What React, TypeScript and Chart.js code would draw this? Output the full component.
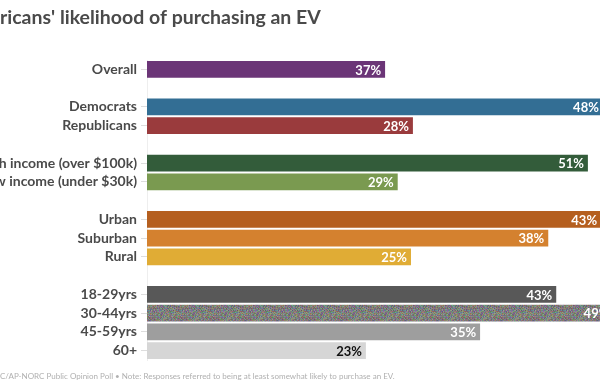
import { useEffect, useRef } from "react";
import { Chart, registerables } from "chart.js";
Chart.register(...registerables);

const categories = [
  "Overall", "",
  "Democrats", "Republicans", "",
  "High income (over $100k)", "Low income (under $30k)", "",
  "Urban", "Suburban", "Rural", "",
  "18-29yrs", "30-44yrs", "45-59yrs", "60+",
];
const overallValues = [37];
const partyValues = [48, 28];
const incomeValues = [51, 29];
const areaValues = [43, 38, 25];
const ageValues = [43, 49, 35, 23];
const groupValues = [overallValues, partyValues, incomeValues, areaValues, ageValues];
const groupStarts = [0, 2, 5, 8, 12];
const groupScaleMax = [70.4, 47.7, 52.4, 42.9, 47.6];
const groupColors = [
  ["#6b3577"],
  ["#336e94", "#9a3b3d"],
  ["#335c3a", "#7a9a50"],
  ["#b55f1f", "#d4812f", "#e0ac35"],
  ["#585858", "PATTERN", "#9e9e9e", "#d6d6d6"],
];
const groupLabelColors = [
  ["#ffffff"],
  ["#ffffff", "#ffffff"],
  ["#ffffff", "#ffffff"],
  ["#ffffff", "#ffffff", "#ffffff"],
  ["#ffffff", "#ffffff", "#ffffff", "#111111"],
];
const titlePrefix = "Ame";
const titleRest = "ricans' likelihood of purchasing an EV";
const footerPrefix = "Source: EPI";
const footerRest =
  "C/AP-NORC Public Opinion Poll \u2022 Note: Responses referred to being at least somewhat likely to purchase an EV.";
const FONT = "Lato, 'Noto Sans', sans-serif";

function makeNoisePattern(): CanvasPattern | string {
  const c = document.createElement("canvas");
  c.width = 32;
  c.height = 32;
  const cx = c.getContext("2d");
  if (!cx) return "#7d7d7d";
  const img = cx.createImageData(32, 32);
  let s = 12345;
  const next = () => {
    s = (s * 1103515245 + 12345) & 0x7fffffff;
    return s / 0x7fffffff;
  };
  for (let i = 0; i < 32 * 32; i++) {
    const base = 124;
    img.data[i * 4] = base + (next() - 0.5) * 70;
    img.data[i * 4 + 1] = base + (next() - 0.5) * 70;
    img.data[i * 4 + 2] = base + (next() - 0.5) * 70;
    img.data[i * 4 + 3] = 255;
  }
  cx.putImageData(img, 0, 0);
  return cx.createPattern(c, "repeat") || "#7d7d7d";
}

export default function App() {
  const ref = useRef<HTMLCanvasElement | null>(null);

  useEffect(() => {
    if (!ref.current) return;
    const pattern = makeNoisePattern();

    const datasets = groupValues.map((vals, g) => {
      const data: (number | null)[] = categories.map(() => null);
      const bg: any[] = categories.map(() => "transparent");
      const lc: string[] = categories.map(() => "#fff");
      vals.forEach((v, i) => {
        data[groupStarts[g] + i] = v;
        const col = groupColors[g][i];
        bg[groupStarts[g] + i] = col === "PATTERN" ? pattern : col;
        lc[groupStarts[g] + i] = groupLabelColors[g][i];
      });
      return {
        label: "g" + g,
        data,
        backgroundColor: bg,
        labelColors: lc,
        xAxisID: "x" + g,
        grouped: false,
        barPercentage: 0.9,
        categoryPercentage: 1,
        borderWidth: 0,
      } as any;
    });

    const scales: any = {
      y: {
        type: "category",
        labels: categories,
        grid: {
          offset: false,
          drawOnChartArea: false,
          drawTicks: true,
          tickLength: 6,
          color: (ctx: any) => (categories[ctx.index] ? "#dddddd" : "rgba(0,0,0,0)"),
        },
        border: { display: true, color: "#eeeeee" },
        ticks: {
          font: { family: FONT, size: 14, weight: "bold" },
          color: "#4a4a4a",
          padding: 4,
          autoSkip: false,
        },
        afterFit: (s: any) => {
          s.width = 147;
        },
      },
    };
    groupScaleMax.forEach((m, g) => {
      scales["x" + g] = { type: "linear", axis: "x", min: 0, max: m, display: false };
    });

    const fitText = (ctx: CanvasRenderingContext2D, weight: string, text: string, target: number) => {
      ctx.font = `${weight} 10px ${FONT}`;
      const w = ctx.measureText(text).width;
      return (10 * target) / w;
    };

    const textPlugin = {
      id: "texts",
      afterDatasetsDraw(chart: any) {
        const ctx = chart.ctx;
        ctx.save();
        ctx.font = `bold 13px ${FONT}`;
        ctx.textAlign = "right";
        ctx.textBaseline = "middle";
        chart.data.datasets.forEach((ds: any, di: number) => {
          const meta = chart.getDatasetMeta(di);
          meta.data.forEach((el: any, i: number) => {
            const v = ds.data[i];
            if (v === null || v === undefined) return;
            ctx.fillStyle = ds.labelColors[i];
            ctx.fillText(v + "%", el.x - 4, el.y + 1);
          });
        });
        ctx.restore();
      },
      afterDraw(chart: any) {
        const ctx = chart.ctx;
        ctx.save();
        ctx.textAlign = "left";
        ctx.textBaseline = "middle";
        // title
        const ts = fitText(ctx, "bold", titleRest, 321);
        ctx.font = `bold ${ts}px ${FONT}`;
        ctx.fillStyle = "#4a4a4a";
        const tp = ctx.measureText(titlePrefix).width;
        ctx.fillText(titlePrefix + titleRest, -tp, 18);
        // footer
        const fs = fitText(ctx, "normal", footerRest, 395);
        ctx.font = `normal ${fs}px ${FONT}`;
        ctx.fillStyle = "#b0b0b0";
        const fp = ctx.measureText(footerPrefix).width;
        ctx.fillText(footerPrefix + footerRest, -fp, 376);
        ctx.restore();
      },
    };

    const chart = new Chart(ref.current, {
      type: "bar",
      data: { labels: categories, datasets },
      options: {
        indexAxis: "y",
        animation: false,
        responsive: false,
        layout: { padding: { top: 60, bottom: 30, left: 0, right: 0 } },
        plugins: { legend: { display: false }, tooltip: { enabled: false } },
        scales,
      },
      plugins: [textPlugin],
    });
    return () => chart.destroy();
  }, []);

  return (
    <div style={{ position: "fixed", left: 0, top: 0, width: 600, height: 390, overflow: "hidden", background: "#fff" }}>
      <canvas ref={ref} width={600} height={390} style={{ display: "block", width: 600, height: 390 }} />
    </div>
  );
}
